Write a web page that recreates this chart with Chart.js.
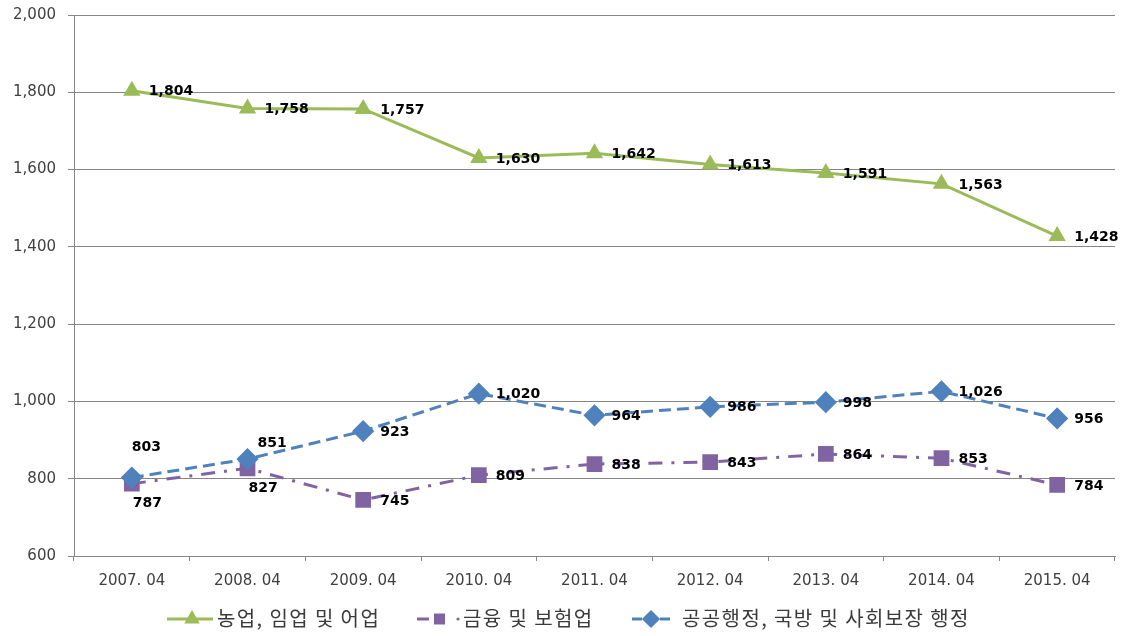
<!DOCTYPE html>
<html><head><meta charset="utf-8">
<script src="https://cdn.jsdelivr.net/npm/chart.js@4"></script>
<style>html,body{margin:0;padding:0;background:#fff}#wrap{width:1122px;height:636px;position:relative}</style>
</head><body><div id="wrap"><canvas id="c"></canvas></div>
<script>
const categories = ['2007. 04','2008. 04','2009. 04','2010. 04','2011. 04','2012. 04','2013. 04','2014. 04','2015. 04'];
const agriculture = [1804,1758,1757,1630,1642,1613,1591,1563,1428];
const finance = [787,827,745,809,838,843,864,853,784];
const publicAdmin = [803,851,923,1020,964,986,998,1026,956];
const seriesNames = ['농업, 임업 및 어업','금융 및 보험업','공공행정, 국방 및 사회보장 행정'];
const yMin = 600, yMax = 2000, yStep = 200;

const GREEN = '#9BBB59', PURPLE = '#8064A2', BLUE = '#4F81BD';
const labelPlacement = {1:{0:'below',1:'below'}, 2:{0:'above',1:'aboveRight'}};

const dataLabels = {
  id:'dataLabels',
  afterDatasetsDraw(chart){
    const ctx = chart.ctx; ctx.save();
    ctx.font = 'bold 14px "DejaVu Sans"'; ctx.fillStyle = '#000';
    ctx.textBaseline = 'middle'; ctx.textAlign = 'left';
    chart.data.datasets.forEach((ds,di)=>{
      const meta = chart.getDatasetMeta(di);
      meta.data.forEach((pt,i)=>{
        const txt = ds.data[i].toLocaleString('en-US');
        const place = (labelPlacement[di]||{})[i] || 'right';
        let x = pt.x+17, y = pt.y+1;
        if(place==='below'){x = pt.x+1; y = pt.y+20;}
        else if(place==='above'){x = pt.x; y = pt.y-30;}
        else if(place==='aboveRight'){x = pt.x+10; y = pt.y-16;}
        ctx.fillText(txt, x, y);
      });
    });
    ctx.restore();
  }
};

const customLegend = {
  id:'customLegend',
  afterDraw(chart){
    const ctx = chart.ctx; const y = 619;
    ctx.save();
    ctx.strokeStyle = GREEN; ctx.fillStyle = GREEN; ctx.lineWidth = 3; ctx.setLineDash([]);
    ctx.beginPath(); ctx.moveTo(167,y); ctx.lineTo(213,y); ctx.stroke();
    Chart.helpers.drawPoint(ctx,{pointStyle:'triangle',radius:6,borderWidth:1},192,y);
    ctx.fill();
    ctx.strokeStyle = PURPLE; ctx.fillStyle = PURPLE;
    ctx.beginPath(); ctx.moveTo(417,y); ctx.lineTo(429,y); ctx.stroke();
    ctx.fillRect(434,y-5.5,11,11);
    ctx.beginPath(); ctx.arc(458,y,1.6,0,Math.PI*2); ctx.fill();
    ctx.strokeStyle = BLUE; ctx.fillStyle = BLUE;
    ctx.beginPath(); ctx.moveTo(632,y); ctx.lineTo(642,y); ctx.moveTo(660,y); ctx.lineTo(670,y); ctx.stroke();
    Chart.helpers.drawPoint(ctx,{pointStyle:'rectRot',radius:7,borderWidth:1},651,y);
    ctx.fill();
    ctx.fillStyle = '#3a3a3a'; ctx.font = '20px "Noto Sans CJK KR"';
    ctx.letterSpacing = '1.4px';
    ctx.textBaseline = 'middle'; ctx.textAlign = 'left';
    ctx.fillText(seriesNames[0],217,y-1);
    ctx.fillText(seriesNames[1],463,y-1);
    ctx.fillText(seriesNames[2],682,y-1);
    ctx.restore();
  }
};

new Chart(document.getElementById('c'),{
  type:'line',
  data:{
    labels:categories,
    datasets:[
      {label:seriesNames[0],data:agriculture,borderColor:GREEN,backgroundColor:GREEN,borderWidth:3,
       pointStyle:'triangle',pointRadius:7,pointBorderColor:GREEN,pointBackgroundColor:GREEN,tension:0,order:0},
      {label:seriesNames[1],data:finance,borderColor:PURPLE,backgroundColor:PURPLE,borderWidth:3,borderDash:[14,9,3,9],
       pointStyle:'rect',pointRadius:9,pointBorderColor:PURPLE,pointBackgroundColor:PURPLE,tension:0,order:2},
      {label:seriesNames[2],data:publicAdmin,borderColor:BLUE,backgroundColor:BLUE,borderWidth:3,borderDash:[12,6],
       pointStyle:'rectRot',pointRadius:9,pointBorderColor:BLUE,pointBackgroundColor:BLUE,tension:0,order:1}
    ]
  },
  options:{
    responsive:true, maintainAspectRatio:false, animation:false,
    layout:{autoPadding:false,padding:{top:15,right:7,left:0,bottom:0}},
    plugins:{legend:{display:false},tooltip:{enabled:false}},
    scales:{
      x:{type:'category',offset:true,
         grid:{offset:true,drawOnChartArea:false,drawTicks:true,tickLength:5,color:'#868686'},
         border:{color:'#868686',width:1},
         ticks:{color:'#404040',font:{family:'DejaVu Sans',size:15},padding:11,maxRotation:0,autoSkip:false},
         afterFit(s){s.height=80; s.paddingLeft=0; s.paddingRight=0;}},
      y:{min:yMin,max:yMax,
         ticks:{stepSize:yStep,color:'#404040',font:{family:'DejaVu Sans',size:15},padding:12,
                callback:v=>v.toLocaleString('en-US')},
         grid:{color:'#868686',tickLength:6},
         border:{color:'#868686',width:1},
         afterFit(s){s.width=74; s.paddingTop=0; s.paddingBottom=0;}}
    }
  },
  plugins:[dataLabels,customLegend]
});
</script></body></html>
